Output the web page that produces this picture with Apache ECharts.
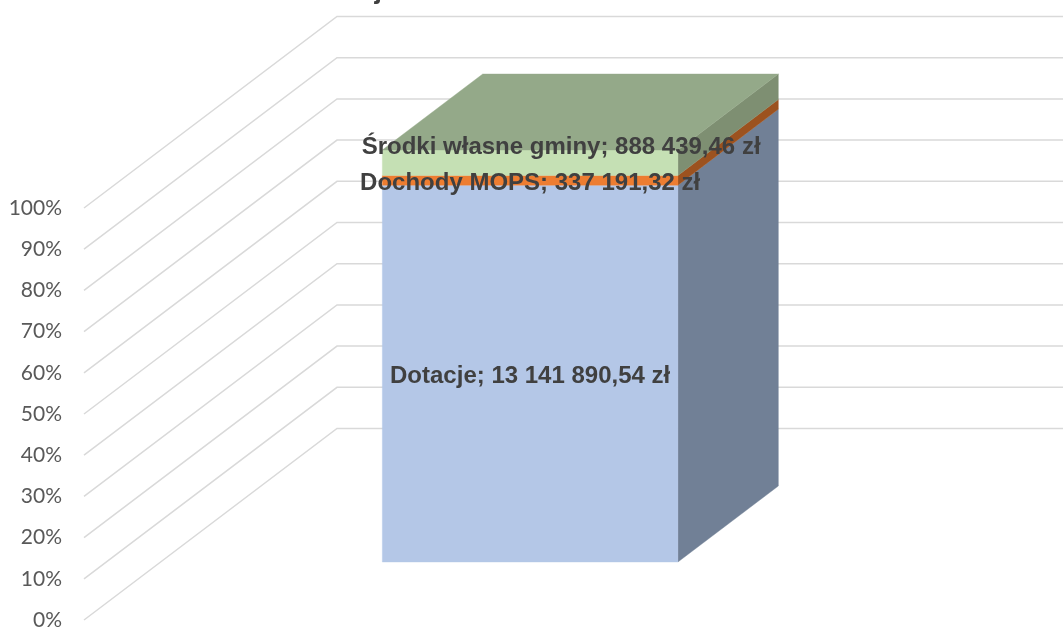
<!DOCTYPE html>
<html><head><meta charset="utf-8">
<style>html,body{margin:0;padding:0;background:#fff}#c{width:1063px;height:628px}</style>
<script src="https://cdn.jsdelivr.net/npm/echarts@6/dist/echarts.min.js"></script>
</head><body><div id="c"></div>
<script>
const categories = ['Dochody'];
const seriesNames = ['Dotacje', 'Dochody MOPS', 'Środki własne gminy'];
const seriesLabels = ['13 141 890,54 zł', '337 191,32 zł', '888 439,46 zł'];
const seriesValues = [13141890.54, 337191.32, 888439.46];
const tickValues = [0,10,20,30,40,50,60,70,80,90,100];

const total = seriesValues.reduce((a,b)=>a+b,0);
const percents = seriesValues.map(v=>v/total*100);
const starts = []; percents.reduce((s,p,i)=>{starts[i]=s;return s+p;},0);

const DX=253, DY=-191.5;           // full floor depth vector
const NEAR=58/191.5, FAR=134/191.5; // bar depth fractions
const nx=DX*NEAR, ny=DY*NEAR, fx=DX*FAR, fy=DY*FAR;
const colors=[
 {front:'#b4c7e7',side:'#718096',top:'#8a9ab5'},
 {front:'#ed7d31',side:'#9c521f',top:'#b05f26'},
 {front:'#c5e0b4',side:'#7e8f72',top:'#94a989'}
];
const labelShift=[[0,3],[0,3],[31,-15]];
const poly=(pts,fill,z)=>({type:'polygon',shape:{points:pts},style:{fill,stroke:fill,lineWidth:.4},z2:z});

const chart=echarts.init(document.getElementById('c'),null,{renderer:'canvas'});
chart.setOption({
 animation:false,
 title:{text:'Struktura dochodów – dotacje %',left:5,top:-28,
   textStyle:{fontFamily:'Liberation Sans',fontWeight:'bold',fontSize:27,color:'#404040'}},
 grid:{left:84,top:208,width:739,height:412,outerBoundsMode:'none'},
 xAxis:{type:'category',data:categories,axisLine:{show:false},axisTick:{show:false},axisLabel:{show:false}},
 yAxis:{type:'value',min:0,max:100,interval:10,
   axisLine:{show:false},axisTick:{show:false},splitLine:{show:false},
   axisLabel:{formatter:'{value}%',fontFamily:'Lato',fontSize:21,color:'#595959',margin:22}},
 series:[
  {name:'grid',type:'custom',silent:true,clip:false,z:1,
   data:tickValues.map(v=>[0,v]),
   renderItem(p,api){
    const c=api.coord([0,api.value(1)]);
    const x0=api.coord([0,0])[0]-api.size([1,0])[0]/2;
    return {type:'polyline',shape:{points:[[x0,c[1]],[x0+DX,c[1]+DY],[1063,c[1]+DY]]},
      style:{fill:'none',stroke:'#d9d9d9',lineWidth:1.5}};
   }},
  {name:'bar',type:'custom',silent:true,clip:false,z:2,
   data:seriesValues.map((v,i)=>[0,starts[i],percents[i],i]),
   renderItem(p,api){
    const i=api.value(3), a=api.coord([0,api.value(1)]), b=api.coord([0,api.value(1)+api.value(2)]);
    const w=api.size([1,0])[0]*0.4, l=a[0]-w/2, r=a[0]+w/2, col=colors[i];
    const P=(x,y,dx,dy)=>[x+dx,y+dy];
    const kids=[
     poly([P(r,a[1],nx,ny),P(r,a[1],fx,fy),P(r,b[1],fx,fy),P(r,b[1],nx,ny)],col.side),
     poly([P(l,a[1],nx,ny),P(r,a[1],nx,ny),P(r,b[1],nx,ny),P(l,b[1],nx,ny)],col.front)
    ];
    if(i===seriesValues.length-1) kids.push(poly([P(l,b[1],nx,ny),P(r,b[1],nx,ny),P(r,b[1],fx,fy),P(l,b[1],fx,fy)],col.top));
    return {type:'group',children:kids};
   }},
  {name:'labels',type:'custom',silent:true,clip:false,z:3,
   data:seriesValues.map((v,i)=>[0,starts[i]+percents[i]/2,i]),
   renderItem(p,api){
    const i=api.value(2), c=api.coord([0,api.value(1)]);
    return {type:'text',x:c[0]+nx+labelShift[i][0],y:c[1]+ny+labelShift[i][1],
     style:{text:seriesNames[i]+'; '+seriesLabels[i],align:'center',verticalAlign:'middle',
      font:'bold 24px "Liberation Sans"',fill:'#404040'}};
   }}
 ]
});
</script></body></html>
